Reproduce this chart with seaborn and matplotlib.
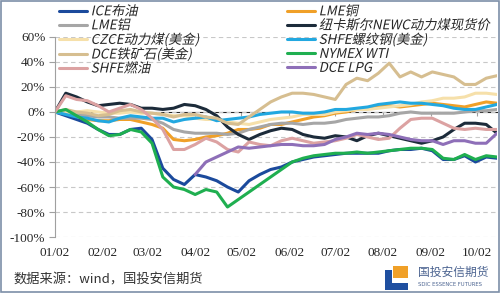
import numpy as np
import pandas as pd
import matplotlib
matplotlib.use('Agg')
import matplotlib.pyplot as plt
import matplotlib.dates as mdates
from matplotlib import font_manager
from matplotlib.patches import Rectangle
from matplotlib.patheffects import AbstractPathEffect
from matplotlib.transforms import Affine2D
from matplotlib.ticker import MultipleLocator, FuncFormatter
import seaborn as sns

nan = np.nan
# 周度数据（相对年初涨跌幅，%）
dates = pd.date_range('2020-01-02', periods=42, freq='7D')
ice_brent = [0, -3, -6, -9, -14, -18, -18, -14, -13, -22, -45, -54, -58, -50, -52, -55, -60, -64, -55, -50, -46, -44,
             -40, -38, -36, -35, -34, -33, -33, -33, -33, -31, -30, -30, -29, -31, -38, -38, -35, -40, -36, -37]
lme_copper = [0, -1, -3, -6, -7, -7, -6, -6, -8, -10, -13, -22, -23, -22, -20, -19, -17, -14, -14, -13, -10, -10,
              -8, -6, -4, -3, -1, 0, 2, 3, 4, 5, 4, 5, 6, 7, 6, 5, 4, 6, 8, 7]
lme_alu = [0, -1, -2, -3, -4, -4, -5, -5, -5, -6, -9, -14, -16, -17, -17, -17, -18, -17, -14, -12, -10, -9,
           -9, -10, -9, -9, -8, -6, -5, -4, -4, -3, -1, 0, -1, -1, -1, -1, 0, 1, 1, 2]
newc_coal = [0, 15, 12, 8, 5, 6, 7, 6, 3, 3, 2, 3, 6, 5, 2, -3, -12, -18, -22, -18, -15, -13,
             -14, -18, -20, -21, -19, -20, -23, -19, -17, -19, -21, -23, -25, -23, -20, -14, -9, -9, -10, -17]
czce_coal = [0, -1, 0, 1, 0, -1, -1, 0, -1, -1, -2, -3, -3, -5, -6, -6, -8, -9, -10, -8, -6, -5,
             -4, -2, -2, -2, 0, 1, 2, 2, 3, 4, 5, 6, 8, 9, 11, 11, 12, 15, 15, 14]
shfe_rebar = [0, -2, -4, -5, -7, -8, -5, -3, -4, -5, -5, -8, -6, -5, -4, -7, -6, -5, -4, -2, -1, 0,
              0, -1, -1, 0, 2, 2, 3, 4, 6, 7, 8, 7, 7, 6, 5, 3, 2, 2, 4, 6]
dce_iron = [0, 2, 0, -1, -3, -2, 1, 2, 0, -1, -2, -4, -2, -2, -4, -5, -9, -10, -4, 2, 8, 12,
            15, 15, 14, 12, 10, 22, 27, 25, 31, 39, 28, 32, 28, 32, 30, 28, 22, 22, 27, 29]
nymex_wti = [0, 2, -3, -8, -14, -19, -18, -14, -16, -25, -52, -60, -62, -66, -62, -64, -76, -70, -64, -58, -52, -46,
             -40, -37, -35, -34, -33, -33, -32, -33, -32, -31, -30, -29, -29, -30, -37, -38, -34, -38, -35, -36]
shfe_fuel = [0, 13, 10, 9, 5, 0, 3, 6, 2, -5, -14, -30, -30, -26, -21, -24, -30, -32, -24, -26, -27, -23,
             -21, -23, -25, -24, -23, -21, -18, -20, -22, -21, -13, -6, -5, -5, -9, -13, -14, -13, -14, -14]
dce_lpg = [nan] * 13 + [-50, -40, -36, -32, -28, -29, -28, -27, -26, -26, -27, -27, -26, -22, -20, -17, -18,
                        -17, -18, -20, -22, -23, -23, -26, -23, -23, -25, -25, -17]

names = ['ICE布油', 'LME铜', 'LME铝', '纽卡斯尔NEWC动力煤现货价', 'CZCE动力煤(美金)',
         'SHFE螺纹钢(美金)', 'DCE铁矿石(美金)', 'NYMEX WTI', 'SHFE燃油', 'DCE LPG']
colors = ['#1B4A9C', '#F0A028', '#A6A6A6', '#1C2B3A', '#F6E0AA',
          '#22A8E0', '#D6BE90', '#1FAF50', '#DCA2A2', '#8E6FB8']
month_ticks = [pd.Timestamp(2020, m, 2) for m in range(1, 11)]

df = pd.DataFrame(dict(zip(names, [ice_brent, lme_copper, lme_alu, newc_coal, czce_coal,
                                   shfe_rebar, dce_iron, nymex_wti, shfe_fuel, dce_lpg])), index=dates)
df = df / 100.0
long = df.reset_index(names='date').melt(id_vars='date', var_name='name', value_name='value').dropna()


# 图例文字的伪斜体
class Slant(AbstractPathEffect):
    def __init__(self, deg=12):
        super().__init__()
        self.deg = deg

    def draw_path(self, renderer, gc, tpath, affine, rgbFace=None):
        ox, oy = affine.transform((0, 0))
        skew = Affine2D().translate(-ox, -oy).skew_deg(self.deg, 0).translate(ox, oy)
        renderer.draw_path(gc, tpath, affine + skew, rgbFace)


installed = {f.name for f in font_manager.fontManager.ttflist}
if 'Noto Sans Mono CJK SC' in installed:
    legend_family, legend_size = ['Noto Sans Mono CJK SC', 'DejaVu Sans'], 9.9
else:
    legend_family, legend_size = ['Noto Sans CJK SC', 'DejaVu Sans'], 9.6

sns.set_style('white')
plt.rcParams['font.family'] = ['Liberation Serif', 'Noto Sans CJK SC']

fig = plt.figure(figsize=(5, 2.93), dpi=100)
ax = fig.add_axes([0.11, 0.191, 0.884, 0.683])
sns.lineplot(data=long, x='date', y='value', hue='name', hue_order=names,
             palette=dict(zip(names, colors)), linewidth=2.2, errorbar=None, ax=ax)

ax.set_ylim(-1.0, 0.6)
ax.set_xlim(dates[0], dates[-1])
ax.yaxis.set_major_locator(MultipleLocator(0.2))
ax.yaxis.set_major_formatter(FuncFormatter(lambda v, p: f'{round(v * 100):d}%'))
ax.set_xticks(month_ticks)
ax.xaxis.set_major_formatter(mdates.DateFormatter('%m/%d'))
ax.set_xlabel('')
ax.set_ylabel('')
ax.grid(axis='y', color='#C8C8C8', linestyle=(0, (4, 3)), linewidth=0.8)
ax.set_axisbelow(True)
for s in ['top', 'right', 'bottom']:
    ax.spines[s].set_visible(False)
ax.spines['left'].set_color('#A0A0A0')
ax.tick_params(axis='y', direction='out', length=4, color='#A0A0A0', labelsize=9.5, pad=3, left=True)
ax.tick_params(axis='x', length=0, labelsize=9.5, pad=7)

# 0% 处的横轴
sec = ax.secondary_xaxis(0.625)
sec.set_xticks(month_ticks)
sec.xaxis.set_ticklabels([])
sec.tick_params(direction='in', length=3, color='#A0A0A0', labelbottom=False, labeltop=False)
sec.spines['bottom'].set_color('#A0A0A0')
sec.spines['bottom'].set_linewidth(1.0)

# 图例分两列，各自定位
handles, labels = ax.get_legend_handles_labels()
ax.get_legend().remove()
leg_kw = dict(loc='upper left', frameon=False, prop={'family': legend_family, 'size': legend_size},
              handlelength=2.15, handletextpad=0.25, labelspacing=0.0, borderpad=0.0)
for cols, x0 in [([0, 2, 4, 6, 8], 0.104), ([1, 3, 5, 7, 9], 0.560)]:
    leg = fig.legend([handles[i] for i in cols], [labels[i] for i in cols],
                     bbox_to_anchor=(x0, 1.008), **leg_kw)
    for t in leg.get_texts():
        t.set_path_effects([Slant(12)])

fig.text(0.026, 0.045, '数据来源：wind，国投安信期货', fontsize=9.5, color='#333333',
         family=['Noto Sans CJK SC', 'DejaVu Sans'], va='center')

# logo
fig.patches.append(Rectangle((385 / 500, 1 - 290 / 293), 7 / 500, 20 / 293, transform=fig.transFigure,
                             facecolor='#1F4FA0', edgecolor='none'))
fig.patches.append(Rectangle((385 / 500, 1 - 290 / 293), 23 / 500, 7 / 293, transform=fig.transFigure,
                             facecolor='#1F4FA0', edgecolor='none'))
fig.patches.append(Rectangle((393 / 500, 1 - 278 / 293), 15 / 500, 12 / 293, transform=fig.transFigure,
                             facecolor='#F0A028', edgecolor='none'))
fig.text(418 / 500, 1 - 272 / 293, '国投安信期货', fontsize=8.5, color='#4C6491',
         family=['Noto Sans CJK SC'], va='center')
fig.text(418 / 500, 1 - 285 / 293, 'SDIC ESSENCE FUTURES', fontsize=3.8, color='#4C6491',
         family=['DejaVu Sans'], va='center')

fig.patches.append(Rectangle((0.002, 0.003), 0.996, 0.994, transform=fig.transFigure,
                             fill=False, edgecolor='#7D8FA8', linewidth=1.2))

fig.savefig('out.png', dpi=100)
